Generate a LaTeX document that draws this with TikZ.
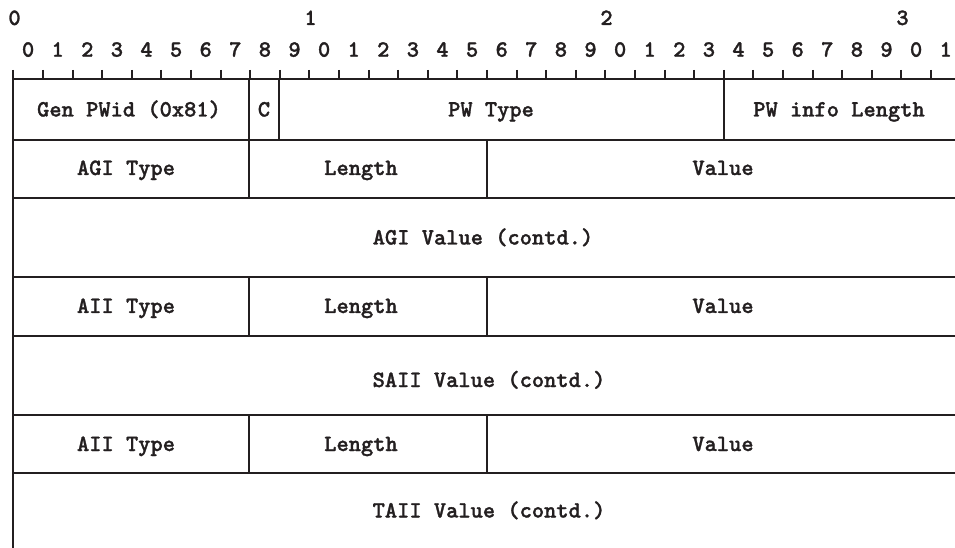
\documentclass[tikz,border=0pt]{standalone}
\usepackage{fontspec}
\newfontfamily\cour{lmmonolt10-bold.otf}[FakeBold=1.3]
\definecolor{ink}{RGB}{35,31,32}
\begin{document}
\begin{tikzpicture}[x=0.75pt,y=-0.75pt,
  rule/.style={draw=ink,line width=1.5pt},
  lbl/.style={inner sep=0pt,anchor=base,text=ink,font=\cour\fontsize{17.5}{20}\selectfont},
  digit/.style={lbl}]
\useasboundingbox (0,0) rectangle (955,548);
% ruler labels
\foreach \t/\k in {0/0,1/10,2/20,3/30}
  \node[digit] (ten\t) at ({14.5+29.6*\k},25) {\t};
\foreach \k in {0,...,31}{
  \pgfmathtruncatemacro{\d}{mod(\k,10)}
  \node[digit] (bit\k) at ({28.1+29.6*\k},56.7) {\d};
}
% ticks
\foreach \k in {1,...,31}
  \draw[rule] ({13.3+29.6*\k},70) -- ({13.3+29.6*\k},79);
% left border
\draw[rule] (13.3,70) -- (13.3,548);
% horizontal lines
\foreach \y in {79,140,198,277,336,415,473}
  \draw[rule] (13.3,\y) -- (955,\y);
% row 1 dividers
\draw[rule] (249.3,79) -- (249.3,140);
\draw[rule] (278.9,79) -- (278.9,140);
\draw[rule] (723.7,79) -- (723.7,140);
% type/length/value dividers
\foreach \ya/\yb in {140/198,277/336,415/473}{
  \draw[rule] (249.3,\ya) -- (249.3,\yb);
  \draw[rule] (486.9,\ya) -- (486.9,\yb);
}
% labels (baseline = row centre + 6.8)
\node[lbl] (genpwid) at (129,116.5) {Gen PWid (0x81)};
\node[lbl] (cbit) at (264,116.5) {C};
\node[lbl] (pwtype) at (491,116.5) {PW Type};
\node[lbl] (pwinfo) at (839,116.5) {PW info Length};
\node[lbl] (agitype) at (126,175) {AGI Type};
\node[lbl] (agilen) at (361,175) {Length};
\node[lbl] (agival) at (723,175) {Value};
\node[lbl] (agicont) at (483,244.5) {AGI Value (contd.)};
\node[lbl] (aiitype1) at (126,313) {AII Type};
\node[lbl] (aiilen1) at (361,313) {Length};
\node[lbl] (aiival1) at (723,313) {Value};
\node[lbl] (saii) at (489,387) {SAII Value (contd.)};
\node[lbl] (aiitype2) at (126,451) {AII Type};
\node[lbl] (aiilen2) at (361,451) {Length};
\node[lbl] (aiival2) at (723,451) {Value};
\node[lbl] (taii) at (489,517.5) {TAII Value (contd.)};
\end{tikzpicture}
\end{document}
